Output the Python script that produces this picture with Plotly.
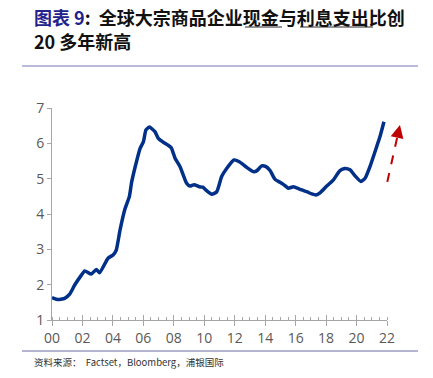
import plotly.graph_objects as go

# ---- data (years since 2000, ratio) ----
years = [0.00, 0.35, 0.83, 1.16, 1.49, 1.93, 2.15, 2.58, 2.91, 3.13, 3.68, 4.01, 4.22,
         4.47, 4.79, 5.08, 5.23, 5.56, 5.78, 6.00, 6.17, 6.39, 6.76, 6.98, 7.31, 7.82,
         8.08, 8.41, 8.84, 9.06, 9.33, 9.68, 9.90, 10.16, 10.49, 10.82, 11.14, 11.47,
         11.95, 12.30, 12.79, 13.22, 13.44, 13.77, 14.05, 14.32, 14.65, 14.97, 15.19,
         15.52, 15.85, 16.29, 16.73, 17.06, 17.34, 17.60, 18.04, 18.47, 18.91, 19.24,
         19.57, 19.90, 20.29, 20.56, 20.88, 21.21, 21.54, 21.80]
ratio = [1.63, 1.58, 1.61, 1.73, 1.99, 2.27, 2.39, 2.30, 2.43, 2.34, 2.75, 2.84, 2.98,
         3.55, 4.14, 4.49, 4.90, 5.50, 5.85, 6.04, 6.38, 6.46, 6.33, 6.14, 6.03, 5.88,
         5.58, 5.34, 4.87, 4.79, 4.83, 4.77, 4.76, 4.66, 4.56, 4.63, 5.06, 5.29,
         5.53, 5.48, 5.32, 5.20, 5.22, 5.36, 5.34, 5.23, 4.98, 4.90, 4.84,
         4.73, 4.77, 4.70, 4.63, 4.57, 4.54, 4.60, 4.79, 4.96, 5.23, 5.29,
         5.25, 5.08, 4.92, 5.01, 5.34, 5.76, 6.19, 6.61]

x_tick_vals = [0, 2, 4, 6, 8, 10, 12, 14, 16, 18, 20, 22]
x_tick_text = ["00", "02", "04", "06", "08", "10", "12", "14", "16", "18", "20", "22"]
y_tick_vals = [1, 2, 3, 4, 5, 6, 7]

arrow_tail = (22.02, 4.91)
arrow_head = (22.85, 6.52)

title_label = "图表 9"
title_line1 = ":  全球大宗商品企业现金与利息支出比创"
title_line2 = "20 多年新高"
source_text = "资料来源：  Factset，Bloomberg，浦银国际"

# ---- layout geometry (page pixels; body margin removed below) ----
W, H = 433, 378
PLOT_L, PLOT_R, PLOT_T, PLOT_B = 52, 387, 108, 320  # page coords of plot area
L, R, T, B = PLOT_L, W - PLOT_R, PLOT_T, H - PLOT_B
X_RANGE = [0, 22]
Y_RANGE = [1, 7]


def py(p):  # page pixel y -> paper y
    return (PLOT_B - p) / (PLOT_B - PLOT_T)


def pxp(p):  # page pixel x -> paper x
    return (p - PLOT_L) / (PLOT_R - PLOT_L)


def dx_paper(v):
    return (v - X_RANGE[0]) / (X_RANGE[1] - X_RANGE[0])


def dy_paper(v):
    return (v - Y_RANGE[0]) / (Y_RANGE[1] - Y_RANGE[0])


fig = go.Figure()
fig.add_trace(go.Scatter(x=years, y=ratio, mode="lines",
                         line=dict(color="#003087", width=3.5, shape="spline", smoothing=0.5),
                         hoverinfo="skip", showlegend=False))
# invisible trace to activate the overlay axis carrying crossing major ticks
fig.add_trace(go.Scatter(x=[0], y=[1], xaxis="x2", mode="markers",
                         marker=dict(opacity=0), showlegend=False, hoverinfo="skip"))

axis_col = "#a6a6a6"
tick_font = dict(size=14, color="#595959", family="Open Sans, Noto Sans, sans-serif")
fig.update_layout(
    width=W, height=H,
    margin=dict(l=L, r=R, t=T, b=B),
    paper_bgcolor="white", plot_bgcolor="white",
    font=dict(family="Noto Sans CJK SC, Noto Sans, sans-serif"),
    xaxis=dict(range=X_RANGE, showgrid=False, zeroline=False,
               showline=True, linecolor=axis_col, linewidth=1,
               tickmode="array", tickvals=x_tick_vals, ticktext=x_tick_text,
               ticks="outside", ticklen=5, tickcolor=axis_col, tickwidth=1,
               tickfont=tick_font,
               minor=dict(dtick=0.5, tick0=0, ticks="inside", ticklen=3,
                          tickcolor=axis_col, tickwidth=1, showgrid=False)),
    xaxis2=dict(range=X_RANGE, overlaying="x", anchor="y", side="bottom",
                showgrid=False, zeroline=False, showline=False, showticklabels=False,
                tickmode="array", tickvals=x_tick_vals,
                ticks="inside", ticklen=5, tickcolor=axis_col, tickwidth=1),
    yaxis=dict(range=Y_RANGE, showgrid=False, zeroline=False,
               showline=True, linecolor=axis_col, linewidth=1,
               tickmode="array", tickvals=y_tick_vals,
               ticks="outside", ticklen=4, tickcolor=axis_col,
               tickfont=tick_font),
)

shapes = []
# top rule
shapes.append(dict(type="line", xref="paper", yref="paper",
                   x0=pxp(22), x1=pxp(418), y0=py(66), y1=py(66),
                   line=dict(color="#a3a3cf", width=1.5)))
# bottom rule
shapes.append(dict(type="line", xref="paper", yref="paper",
                   x0=pxp(22), x1=pxp(418), y0=py(351), y1=py(351),
                   line=dict(color="#6b6ba6", width=1)))
# underlines in title
for a, b in [(245, 282), (300, 373)]:
    shapes.append(dict(type="line", xref="paper", yref="paper",
                       x0=pxp(a), x1=pxp(b), y0=py(27), y1=py(27),
                       line=dict(color="#707070", width=1.5)))
# dashed arrow shaft
tx, ty = dx_paper(arrow_tail[0]), dy_paper(arrow_tail[1])
hx, hy = dx_paper(arrow_head[0]), dy_paper(arrow_head[1])
fr = 0.85
shapes.append(dict(type="line", xref="paper", yref="paper",
                   x0=tx, y0=ty, x1=tx + (hx - tx) * fr, y1=ty + (hy - ty) * fr,
                   line=dict(color="#c00000", width=2, dash="dash")))
fig.update_layout(shapes=shapes)

title_font = dict(size=18, color="#111111", family="Noto Sans CJK SC")
annotations = [
    dict(xref="paper", yref="paper", x=pxp(32), y=py(17), xanchor="left", yanchor="middle",
         showarrow=False,
         text=f"<b><span style='color:#23238c'>{title_label}</span>{title_line1}</b>",
         font=title_font),
    dict(xref="paper", yref="paper", x=pxp(32), y=py(41), xanchor="left", yanchor="middle",
         showarrow=False, text=f"<b>{title_line2}</b>",
         font=title_font),
    dict(xref="paper", yref="paper", x=pxp(32), y=py(362), xanchor="left", yanchor="middle",
         showarrow=False, text=source_text,
         font=dict(size=9.5, color="#333333", family="Noto Sans CJK SC")),
    # arrowhead
    dict(xref="paper", yref="paper", x=hx, y=hy, ax=-2.4, ay=10.5, text="",
         showarrow=True, arrowhead=2, arrowsize=1.3, arrowwidth=2, arrowcolor="#c00000"),
]
fig.update_layout(annotations=annotations)

fig.write_html("out.html",
               config={"displayModeBar": False},
               post_script="document.body.style.margin='0px';"
                           "document.body.style.overflow='hidden';")
